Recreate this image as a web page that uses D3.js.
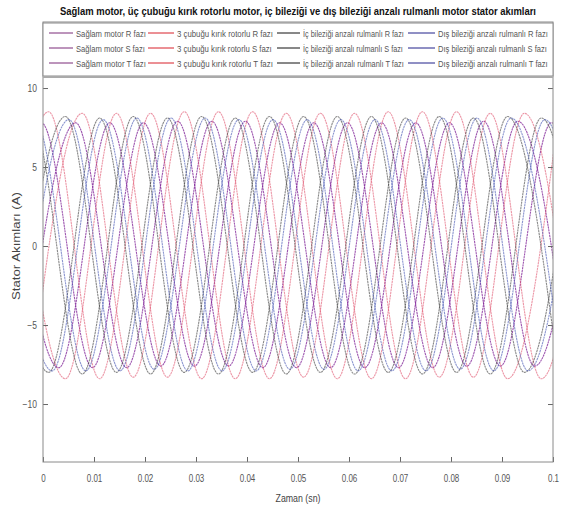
<!DOCTYPE html>
<html>
<head>
<meta charset="utf-8">
<script src="https://cdn.jsdelivr.net/npm/d3@7"></script>
<style>
  body { margin: 0; background: #fff; }
  text { font-family: "Liberation Sans Narrow", "Arial Narrow", "Liberation Sans", Arial, sans-serif; }
</style>
</head>
<body>
<svg id="chart" width="564" height="511"></svg>
<script>
// axis ticks
const xTicks = [0, 0.01, 0.02, 0.03, 0.04, 0.05, 0.06, 0.07, 0.08, 0.09, 0.1];
const xTickLabels = ['0', '0.01', '0.02', '0.03', '0.04', '0.05', '0.06', '0.07', '0.08', '0.09', '0.1'];
const yTicks = [-10, -5, 0, 5, 10];

// legend labels
const motors = ['Sağlam motor', '3 çubuğu kırık rotorlu', 'İç bileziği anzalı rulmanlı', 'Dış bileziği anzalı rulmanlı'];
const phases = ['R', 'S', 'T'];

// waveform turning points [time (s), current (A)]
const saglamR = [[-0.0036,-7.7],[0.0064,7.8],[0.0164,-7.7],[0.0264,7.9],[0.0364,-7.6],[0.0464,7.8],[0.0564,-7.7],[0.0664,7.8],[0.0764,-7.7],[0.0864,7.9],[0.0964,-7.6],[0.1064,7.8]];
const saglamS = [[-0.0069,7.8],[0.0031,-7.7],[0.0131,7.8],[0.0231,-7.6],[0.0331,7.9],[0.0431,-7.7],[0.0531,7.8],[0.0631,-7.7],[0.0731,7.8],[0.0831,-7.6],[0.0931,7.9],[0.1031,-7.7]];
const saglamT = [[-0.0103,-7.7],[-0.0003,7.8],[0.0097,-7.7],[0.0197,7.8],[0.0297,-7.6],[0.0397,7.9],[0.0497,-7.7],[0.0597,7.8],[0.0697,-7.7],[0.0797,7.8],[0.0897,-7.6],[0.0997,7.8],[0.1097,-7.7]];

const kirikR = [[-0.0023,-8.4],[0.0077,8.4],[0.0177,-8.3],[0.0277,8.5],[0.0377,-8.4],[0.0477,8.4],[0.0577,-8.4],[0.0677,8.5],[0.0777,-8.3],[0.0877,8.4],[0.0977,-8.4],[0.1077,8.5]];
const kirikS = [[-0.0056,8.5],[0.0044,-8.4],[0.0144,8.4],[0.0244,-8.3],[0.0344,8.5],[0.0444,-8.4],[0.0544,8.4],[0.0644,-8.4],[0.0744,8.5],[0.0844,-8.3],[0.0944,8.4],[0.1044,-8.4]];
const kirikT = [[-0.0089,-8.3],[0.0011,8.5],[0.0111,-8.4],[0.0211,8.4],[0.0311,-8.4],[0.0411,8.5],[0.0511,-8.3],[0.0611,8.4],[0.0711,-8.4],[0.0811,8.5],[0.0911,-8.4],[0.1011,8.4]];

const icR = [[-0.0056,-8.0],[0.0044,8.2],[0.0144,-8.0],[0.0244,8.1],[0.0344,-8.1],[0.0444,8.2],[0.0544,-8.0],[0.0644,8.2],[0.0744,-8.1],[0.0844,8.1],[0.0944,-8.0],[0.1044,8.2]];
const icS = [[-0.0089,8.2],[0.0011,-8.0],[0.0111,8.1],[0.0211,-8.1],[0.0311,8.2],[0.0411,-8.0],[0.0511,8.2],[0.0611,-8.1],[0.0711,8.1],[0.0811,-8.0],[0.0911,8.2],[0.1011,-8.1]];
const icT = [[-0.0123,-8.0],[-0.0023,8.1],[0.0077,-8.1],[0.0177,8.2],[0.0277,-8.0],[0.0377,8.1],[0.0477,-8.1],[0.0577,8.2],[0.0677,-8.0],[0.0777,8.2],[0.0877,-8.1],[0.0977,8.1],[0.1077,-8.0]];

const disR = [[-0.0049,-7.9],[0.0051,8.0],[0.0151,-7.9],[0.0251,8.1],[0.0351,-7.9],[0.0451,8.0],[0.0551,-7.8],[0.0651,8.0],[0.0751,-7.9],[0.0851,8.1],[0.0951,-7.9],[0.1051,8.0]];
const disS = [[-0.0082,8.0],[0.0018,-7.9],[0.0118,8.0],[0.0218,-7.8],[0.0318,8.1],[0.0418,-7.9],[0.0518,8.0],[0.0618,-7.9],[0.0718,8.0],[0.0818,-7.8],[0.0918,8.1],[0.1018,-7.9]];
const disT = [[-0.0116,-7.9],[-0.0016,8.0],[0.0084,-7.9],[0.0184,8.1],[0.0284,-7.9],[0.0384,8.0],[0.0484,-7.8],[0.0584,8.0],[0.0684,-7.9],[0.0784,8.1],[0.0884,-7.9],[0.0984,8.0],[0.1084,-7.9]];

const seriesData = [
  [saglamR, saglamS, saglamT],
  [kirikR, kirikS, kirikT],
  [icR, icS, icT],
  [disR, disS, disT]
];

const legendColors = ['#7a2a78', '#d8202a', '#111111', '#20208a'];
const lineColors = ['#7d1f95', '#e0506a', '#3a3a3a', '#4050b0'];
const lineOpacity = [0.75, 0.6, 0.6, 0.6];

const svg = d3.select('#chart');
const W = 564, H = 511;
svg.append('rect').attr('width', W).attr('height', H).attr('fill', '#fff');

const pLeft = 43, pRight = 553, pTop = 22, pBottom = 462;
const x = d3.scaleLinear().domain([0, 0.1]).range([pLeft, pRight]);
const y = d3.scaleLinear().domain([-13.67, 14.18]).range([pBottom, pTop]);

svg.append('clipPath').attr('id', 'plotclip')
  .append('rect').attr('x', pLeft).attr('y', pTop).attr('width', pRight - pLeft).attr('height', pBottom - pTop);

// curves
const line = d3.line()
  .x(d => x(d[0]))
  .y(d => y(d[1]))
  .curve(d3.curveMonotoneX);

const plot = svg.append('g').attr('clip-path', 'url(#plotclip)');
seriesData.forEach((group, m) => {
  group.forEach(pts => {
    plot.append('path')
      .attr('d', line(pts))
      .attr('fill', 'none')
      .attr('stroke', lineColors[m])
      .attr('stroke-opacity', lineOpacity[m])
      .attr('stroke-width', 1.1)
      .attr('stroke-dasharray', '2.2,0.6');
  });
});

// squeeze text horizontally, like the narrow font of the original
function narrow(sel, k) {
  sel.each(function() {
    const w = this.getComputedTextLength();
    d3.select(this).attr('textLength', w * k).attr('lengthAdjust', 'spacingAndGlyphs');
  });
}

// text squeezed to a given width with a scale transform
function fitText(g, str, px, py, width, size, opts) {
  const t = g.append('text').attr('x', 0).attr('y', 0)
    .style('font-size', size + 'px')
    .attr('fill', opts.fill || '#555')
    .text(str);
  if (opts.bold) t.style('font-weight', 'bold');
  if (opts.anchor) t.attr('text-anchor', opts.anchor);
  const w = t.node().getComputedTextLength();
  t.attr('transform', `translate(${px},${py})${opts.rotate ? ' rotate(-90)' : ''} scale(${width / w},1)`);
  return t;
}

// axes
const tickColor = '#666';
const xAxis = svg.append('g')
  .attr('transform', `translate(0,${pBottom})`)
  .call(d3.axisBottom(x).tickValues(xTicks).tickFormat((d, i) => xTickLabels[i]).tickSize(-5).tickPadding(13));
const yAxis = svg.append('g')
  .attr('transform', `translate(${pLeft},0)`)
  .call(d3.axisLeft(y).tickValues(yTicks).tickSize(-5).tickPadding(6));
const yAxisR = svg.append('g')
  .attr('transform', `translate(${pRight},0)`)
  .call(d3.axisRight(y).tickValues(yTicks).tickSize(-5).tickFormat(''));

[xAxis, yAxis, yAxisR].forEach(g => {
  g.select('.domain').remove();
  g.selectAll('line').attr('stroke', tickColor);
  g.selectAll('text').attr('fill', '#555').style('font-size', '10px');
});
narrow(xAxis.selectAll('text'), 0.8);
narrow(yAxis.selectAll('text'), 0.85);

svg.append('rect')
  .attr('x', pLeft).attr('y', pTop)
  .attr('width', pRight - pLeft).attr('height', pBottom - pTop)
  .attr('fill', 'none').attr('stroke', '#8a8a8a').attr('stroke-width', 1);

// legend
const legTop = 23, legBottom = 76;
const legend = svg.append('g');
legend.append('rect')
  .attr('x', pLeft).attr('y', legTop)
  .attr('width', pRight - pLeft).attr('height', legBottom - legTop)
  .attr('fill', '#fff').attr('stroke', '#8a8a8a');
legend.append('line')
  .attr('x1', pLeft).attr('x2', pRight).attr('y1', legBottom + 1).attr('y2', legBottom + 1)
  .attr('stroke', '#aaa').attr('stroke-width', 2);

const colLine = [[49, 73], [148, 174], [277, 300], [408, 435]];
const colText = [[76, 70], [177, 96], [303, 101], [438, 110]];
const rowY = [33, 48, 63];

motors.forEach((name, m) => {
  phases.forEach((p, r) => {
    legend.append('line')
      .attr('x1', colLine[m][0]).attr('x2', colLine[m][1])
      .attr('y1', rowY[r]).attr('y2', rowY[r])
      .attr('stroke', legendColors[m]).attr('stroke-width', 1);
    fitText(legend, `${name} ${p} fazı`, colText[m][0], rowY[r] + 3.5,
      colText[m][1] - (p === 'S' ? 1 : 0), 9.5, {});
  });
});

// title and labels
fitText(svg, 'Sağlam motor, üç çubuğu kırık rotorlu motor, iç bileziği ve dış bileziği anzalı rulmanlı motor stator akımları',
  298, 15, 476, 11, {bold: true, anchor: 'middle', fill: '#111'});
fitText(svg, 'Zaman (sn)', 298, 502, 45, 11, {anchor: 'middle', fill: '#444'});
fitText(svg, 'Stator Akımları (A)', 20, 246, 108, 11, {anchor: 'middle', fill: '#444', rotate: true});
</script>
</body>
</html>
